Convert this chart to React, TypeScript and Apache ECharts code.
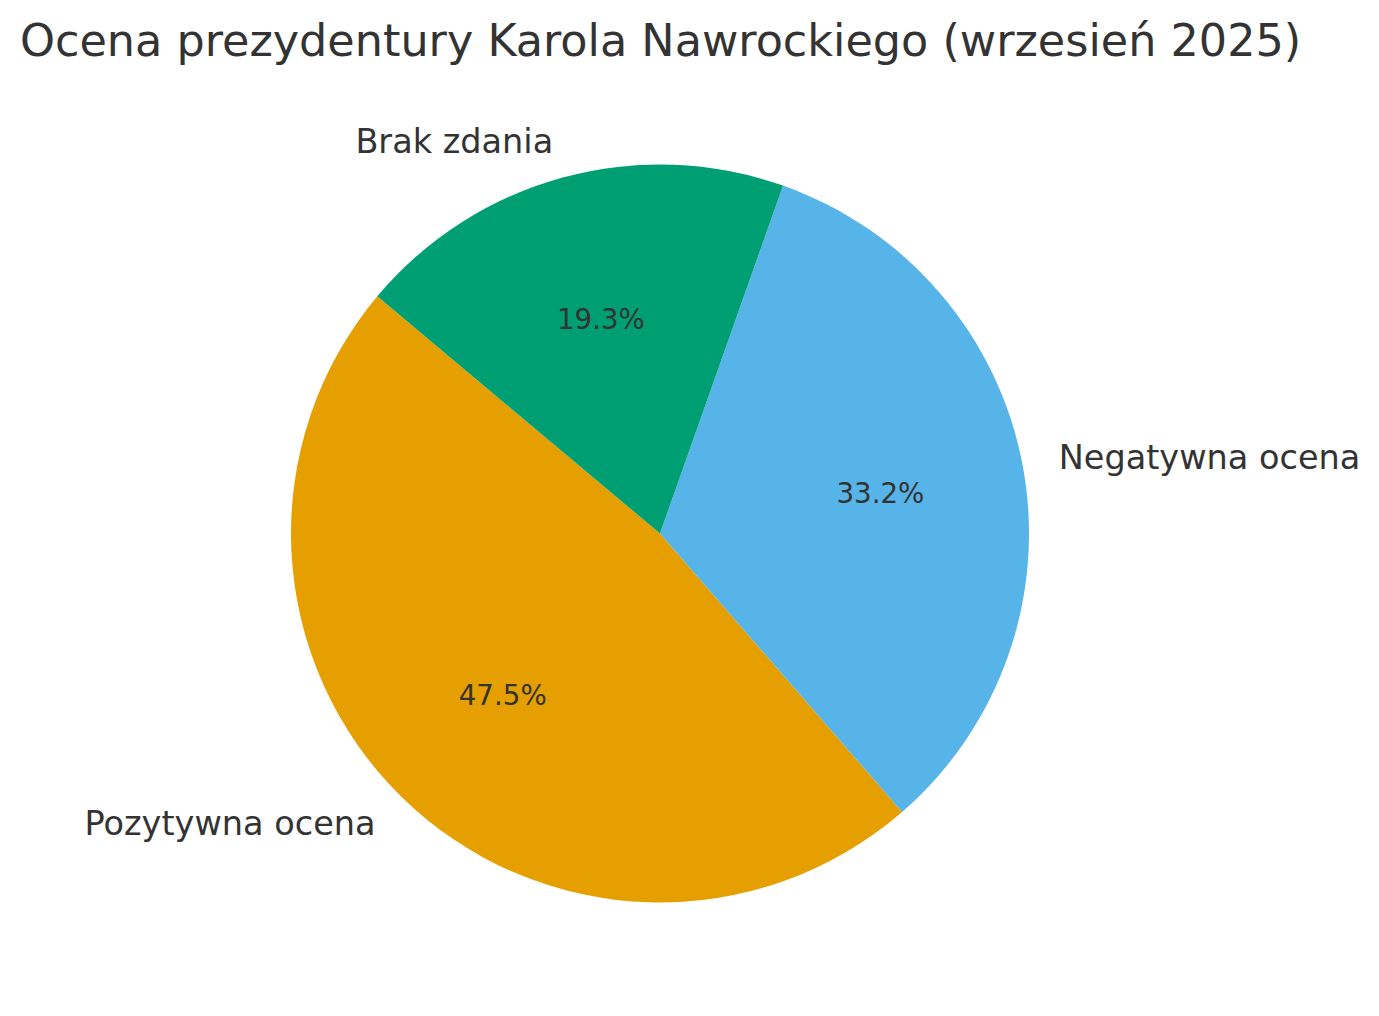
import React, { useEffect, useRef } from "react";
import * as echarts from "echarts";

const categories = ["Pozytywna ocena", "Negatywna ocena", "Brak zdania"];
const values = [47.5, 33.2, 19.3];
const colors = ["#E69F00", "#56B4E9", "#009E73"];
const titleText = "Ocena prezydentury Karola Nawrockiego (wrzesień 2025)";

const FONT = "DejaVu Sans";
const R = 369;
const CENTER = [660, 533.5];

export default function App() {
  const ref = useRef<HTMLDivElement>(null);
  useEffect(() => {
    document.body.style.margin = "0";
    const chart = echarts.init(ref.current!, null, { renderer: "svg" });
    const data = categories.map((name, i) => ({
      name,
      value: values[i],
      itemStyle: { color: colors[i] },
    }));
    chart.setOption({
      animation: false,
      backgroundColor: "#ffffff",
      title: {
        text: titleText,
        left: 20,
        top: 18,
        padding: 0,
        textStyle: {
          fontFamily: FONT,
          fontSize: 44.5,
          fontWeight: "normal",
          color: "#333333",
          lineHeight: 44,
        },
      },
      series: [
        {
          type: "pie",
          center: CENTER,
          radius: [0, R],
          startAngle: 140,
          clockwise: false,
          avoidLabelOverlap: false,
          silent: true,
          data,
          itemStyle: { borderWidth: 0 },
          label: {
            show: true,
            position: "outside",
            formatter: "{b}",
            fontFamily: FONT,
            fontSize: 33.5,
            color: "#333333",
            distanceToLabelLine: 0,
            verticalAlign: "middle",
          },
          labelLine: { show: false, length: R * 0.1, length2: 0 },
          emphasis: { disabled: true },
        },
        {
          type: "pie",
          center: CENTER,
          radius: [R * 0.5, R * 0.7],
          startAngle: 140,
          clockwise: false,
          avoidLabelOverlap: false,
          silent: true,
          z: 3,
          data: categories.map((name, i) => ({
            name,
            value: values[i],
            itemStyle: { color: "rgba(0,0,0,0)" },
          })),
          label: {
            show: true,
            position: "inside",
            formatter: (p: any) => Number(p.value).toFixed(1) + "%",
            fontFamily: FONT,
            fontSize: 27.7,
            color: "#333333",
            align: "center",
            verticalAlign: "middle",
            offset: [0, 2],
          },
          labelLine: { show: false },
          emphasis: { disabled: true },
        },
      ],
    });
    return () => chart.dispose();
  }, []);
  return <div ref={ref} style={{ width: 1379, height: 1016 }} />;
}
